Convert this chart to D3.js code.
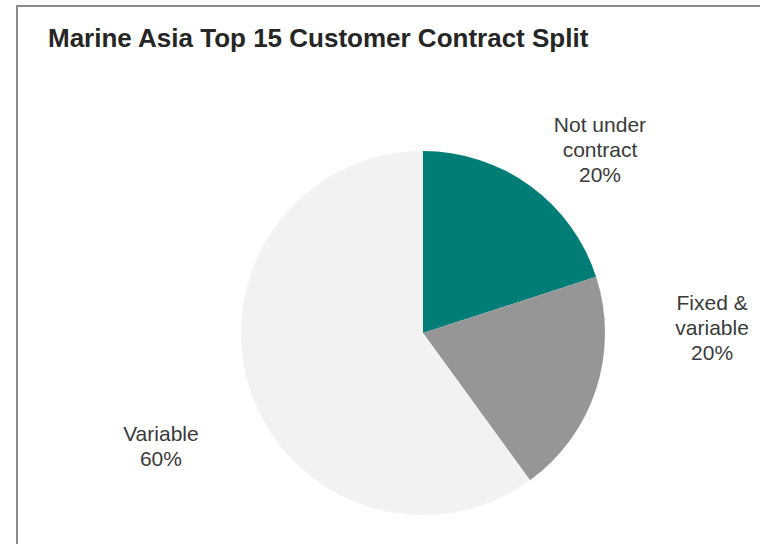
<!DOCTYPE html>
<html>
<head>
<meta charset="utf-8">
<script src="https://cdn.jsdelivr.net/npm/d3@7"></script>
<style>
  html, body { margin: 0; padding: 0; background: #fff; }
  svg { display: block; font-family: Arial, "Liberation Sans", sans-serif; }
</style>
</head>
<body>
<svg id="chart" width="760" height="544"></svg>
<script>
// Contract split of the top 15 customers
const categories = ["Not under contract", "Fixed & variable", "Variable"];
const shares = [20, 20, 60];
const colors = ["#007D77", "#969696", "#F2F2F2"];
// Label lines per category (text breaks as shown)
const labelLines = [["Not under", "contract"], ["Fixed &", "variable"], ["Variable"]];

const svg = d3.select("#chart");

// Frame
svg.append("rect")
  .attr("x", 17).attr("y", 6)
  .attr("width", 760).attr("height", 560)
  .attr("fill", "none")
  .attr("stroke", "#8c8c8c")
  .attr("stroke-width", 2);

svg.append("text")
  .attr("x", 48).attr("y", 47)
  .attr("font-size", 26)
  .attr("font-weight", "bold")
  .attr("fill", "#262626")
  .text("Marine Asia Top 15 Customer Contract Split");

const cx = 423, cy = 333, radius = 182;

const data = categories.map((c, i) => ({ name: c, value: shares[i], color: colors[i], lines: labelLines[i] }));

const pie = d3.pie().value(d => d.value).sort(null);
const arc = d3.arc().innerRadius(0).outerRadius(radius);
const outerArc = d3.arc().innerRadius(radius).outerRadius(radius);

const g = svg.append("g").attr("transform", `translate(${cx},${cy})`);
const arcs = pie(data);

g.selectAll("path")
  .data(arcs)
  .join("path")
  .attr("d", arc)
  .attr("fill", d => d.data.color);

// Outside labels: start from the slice's outer-edge midpoint, then nudge clear of the pie
const labelNudge = [[70, -36], [116, -62], [-89, 57]];
const fmt = d => d + "%";
const lh = 25;
arcs.forEach((a, i) => {
  const [ex, ey] = outerArc.centroid(a);
  const lx = ex + labelNudge[i][0];
  const ly = ey + labelNudge[i][1];
  const lines = a.data.lines.concat([fmt(a.data.value)]);
  const t = g.append("text")
    .attr("text-anchor", "middle")
    .attr("font-size", 21)
    .attr("fill", "#3a3a3a");
  lines.forEach((ln, k) => {
    t.append("tspan")
      .attr("x", lx)
      .attr("y", ly + (k - (lines.length - 1) / 2) * lh + 7.5)
      .text(ln);
  });
});
</script>
</body>
</html>
